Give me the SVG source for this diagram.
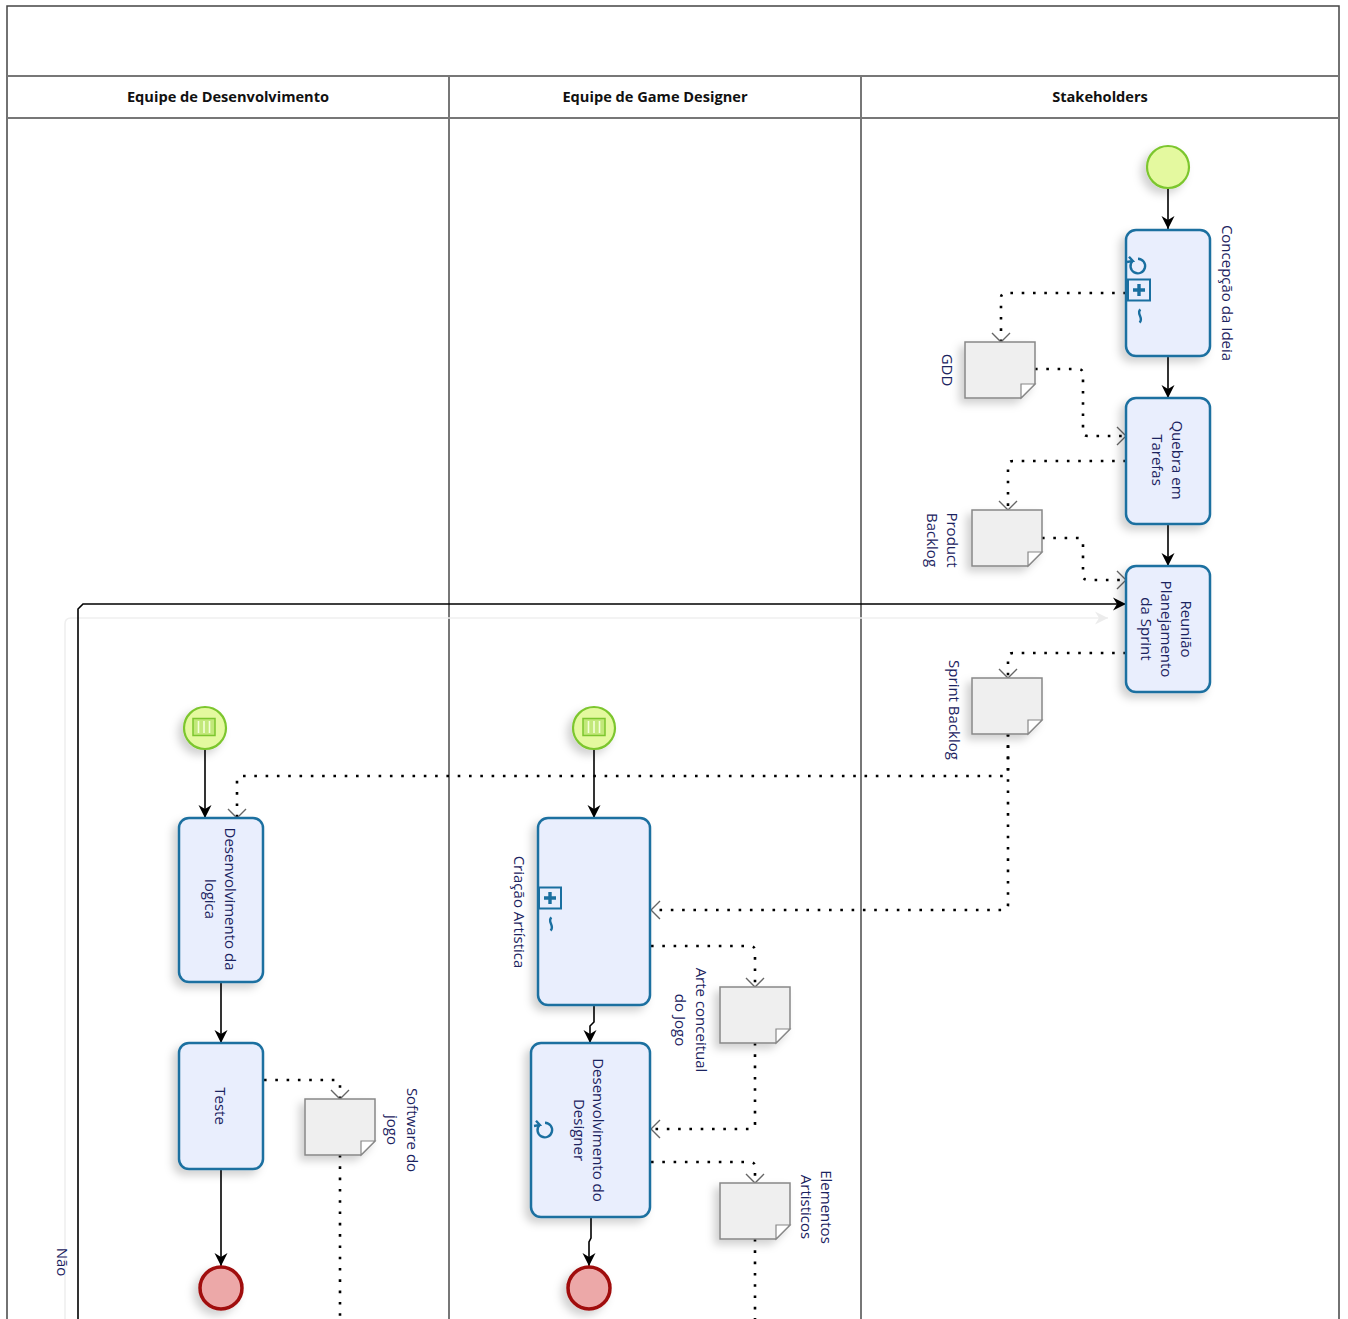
<svg xmlns="http://www.w3.org/2000/svg" width="1348" height="1319" viewBox="0 0 1348 1319">
  <defs>
    <style>
      .lane { fill: none; stroke: #777; stroke-width: 2; }
      .frame { fill: none; stroke: #444; stroke-width: 1.5; }
      .hdr { font-family: "Open Sans", "DejaVu Sans", sans-serif; font-weight: bold; font-size: 14.6px; fill: #111; text-anchor: middle; dominant-baseline: central; }
      .task { fill: #e9eefd; stroke: #1a6fa0; stroke-width: 2.5; }
      .start { fill: #e4f99f; stroke: #7cc62e; stroke-width: 2.2; }
      .end { fill: #eca8a8; stroke: #a00d0d; stroke-width: 3.5; }
      .doc { fill: #efefef; stroke: #888; stroke-width: 1.5; }
      .fold { fill: #fff; stroke: #888; stroke-width: 1.2; }
      .lbl { font-family: "Open Sans", "DejaVu Sans", sans-serif; font-size: 15px; fill: #1b2360; text-anchor: middle; dominant-baseline: central; }
      .seq { fill: none; stroke: #000; stroke-width: 1.6; marker-end: url(#arrow); }
      .assoc { fill: none; stroke: #000; stroke-width: 2.6; stroke-dasharray: 2.6 8.7; }
      .assocEnd { marker-end: url(#open); }
      .ghost { fill: none; stroke: #efefef; stroke-width: 1.6; }
      .icon { fill: none; stroke: #1a6fa0; stroke-width: 2.4; }
      .cond { fill: #c2e87a; stroke: #7cc62e; stroke-width: 1.5; }
      .condbar { stroke: #f4ffd8; stroke-width: 1.6; }
    </style>
    <filter id="shadow" x="-40%" y="-30%" width="180%" height="170%">
      <feDropShadow dx="-5" dy="5" stdDeviation="4" flood-color="#000" flood-opacity="0.18"/>
    </filter>
    <marker id="arrow" markerUnits="userSpaceOnUse" markerWidth="16" markerHeight="16" viewBox="-15 -8 16 16" refX="0" refY="0" orient="auto">
      <path d="M-13,-6.5 L0,0 L-13,6.5 L-9,0 Z" fill="#000"/>
    </marker>
    <marker id="open" markerUnits="userSpaceOnUse" markerWidth="14" markerHeight="22" viewBox="-11 -11 13 22" refX="0" refY="0" orient="auto">
      <path d="M-9,-9 L0,0 L-9,9" fill="none" stroke="#666" stroke-width="1.4"/>
    </marker>
    <marker id="ghostArrow" markerUnits="userSpaceOnUse" markerWidth="16" markerHeight="16" viewBox="-15 -8 16 16" refX="0" refY="0" orient="auto">
      <path d="M-13,-6.5 L0,0 L-13,6.5 L-9,0 Z" fill="#ececec"/>
    </marker>
    <!-- loop marker: open circle with a small barb -->
    <g id="loopIcon">
      <path d="M-5.5,-5 A7.3,7.3 0 1 0 0,-7.3" class="icon"/>
      <path d="M-9,-9.2 L-5.2,-5 L-11,-4" class="icon" stroke-width="2.2"/>
    </g>
    <!-- ad-hoc marker: tilde turned upright -->
    <g id="adhocIcon">
      <path d="M0.5,-6.5 C-4.5,-3 4.5,2.5 -0.5,6.5" class="icon" stroke-width="3.4"/>
    </g>
    <!-- collapsed sub-process marker -->
    <g id="subIcon">
      <rect x="-11" y="-10.5" width="22" height="21" fill="none" stroke="#1a6fa0" stroke-width="2"/>
      <path d="M-6,0 H6 M0,-6 V6" stroke="#1a6fa0" stroke-width="3.4"/>
    </g>
    <!-- conditional trigger -->
    <g id="condIcon">
      <rect x="-11" y="-8.5" width="22" height="17" class="cond"/>
      <path d="M-5.5,-6 V6 M0,-6 V6 M5.5,-6 V6" class="condbar"/>
    </g>
  </defs>

  <rect width="1348" height="1319" fill="#fff"/>

  <!-- pool and lanes -->
  <g id="pool">
    <path d="M7,1319 V6 H1339 V1319" class="frame"/>
    <path d="M7,76 H1339 M7,118 H1339" class="lane"/>
    <path d="M449,76 V1319 M861,76 V1319" class="lane"/>
    <text x="228" y="96" class="hdr">Equipe de Desenvolvimento</text>
    <text x="655" y="96" class="hdr">Equipe de Game Designer</text>
    <text x="1100" y="96" class="hdr">Stakeholders</text>
  </g>

  <!-- connectors -->
  <g id="connectors">
    <path d="M65,1319 V624 Q65,618 71,618 H1108" class="ghost" marker-end="url(#ghostArrow)"/>

    <path d="M1168,189 V229" class="seq"/>
    <path d="M1168,357 V398" class="seq"/>
    <path d="M1168,524 V566" class="seq"/>
    <path d="M78,1319 V609 L83,604 H1126" class="seq"/>
    <path d="M205,750 V818" class="seq"/>
    <path d="M221,983 V1043" class="seq"/>
    <path d="M221,1169 V1266" class="seq"/>
    <path d="M594,750 V818" class="seq"/>
    <path d="M594,1005 V1022 L590,1026 V1043" class="seq"/>
    <path d="M591,1217 V1238 L589,1242 V1266" class="seq"/>

    <path d="M1126,293 H1006 Q1001,293 1001,298 V342" class="assoc assocEnd"/>
    <path d="M1035,369 H1078 Q1083,369 1083,374 V431 Q1083,436 1088,436 H1126" class="assoc assocEnd"/>
    <path d="M1126,461 H1013 Q1008,461 1008,466 V510" class="assoc assocEnd"/>
    <path d="M1042,538 H1078 Q1083,538 1083,543 V575 Q1083,580 1088,580 H1126" class="assoc assocEnd"/>
    <path d="M1126,653 H1013 Q1008,653 1008,658 V678" class="assoc assocEnd"/>
    <path d="M1008,734 V771 Q1008,776 1003,776 H242 Q237,776 237,781 V818" class="assoc assocEnd"/>
    <path d="M1008,734 V905 Q1008,910 1003,910 H651" class="assoc assocEnd"/>
    <path d="M651,946 H750 Q755,946 755,951 V987" class="assoc assocEnd"/>
    <path d="M755,1043 V1124 Q755,1129 750,1129 H651" class="assoc assocEnd"/>
    <path d="M651,1162 H750 Q755,1162 755,1167 V1183" class="assoc assocEnd"/>
    <path d="M755,1239 V1322" class="assoc"/>
    <path d="M264,1080 H335 Q340,1080 340,1085 V1099" class="assoc assocEnd"/>
    <path d="M340,1155 V1322" class="assoc"/>

    <text transform="translate(63,1262) rotate(90)" class="lbl" font-size="14">Não</text>
  </g>

  <!-- Stakeholders -->
  <g id="start-stakeholders" filter="url(#shadow)">
    <circle cx="1168" cy="167" r="21" class="start"/>
  </g>
  <g id="task-concepcao">
    <rect x="1126" y="230" width="84" height="126" rx="10" class="task" filter="url(#shadow)"/>
    <use href="#loopIcon" x="1138" y="266"/>
    <use href="#subIcon" x="1139" y="290"/>
    <use href="#adhocIcon" x="1140" y="316"/>
    <text transform="translate(1228,293) rotate(90)" class="lbl">Concepção da Ideia</text>
  </g>
  <g id="data-gdd">
    <path d="M965,342 H1035 V384 L1021,398 H965 Z" class="doc" filter="url(#shadow)"/>
    <path d="M1035,384 L1021,384 L1021,398 Z" class="fold"/>
    <text transform="translate(948,370) rotate(90)" class="lbl">GDD</text>
  </g>
  <g id="task-quebra">
    <rect x="1126" y="398" width="84" height="126" rx="10" class="task" filter="url(#shadow)"/>
    <text transform="translate(1178,460) rotate(90)" class="lbl">Quebra em</text>
    <text transform="translate(1158,460) rotate(90)" class="lbl">Tarefas</text>
  </g>
  <g id="data-product-backlog">
    <path d="M972,510 H1042 V552 L1028,566 H972 Z" class="doc" filter="url(#shadow)"/>
    <path d="M1042,552 L1028,552 L1028,566 Z" class="fold"/>
    <text transform="translate(953,540) rotate(90)" class="lbl">Product</text>
    <text transform="translate(933,540) rotate(90)" class="lbl">Backlog</text>
  </g>
  <g id="task-reuniao">
    <rect x="1126" y="566" width="84" height="126" rx="10" class="task" filter="url(#shadow)"/>
    <text transform="translate(1187,629) rotate(90)" class="lbl">Reunião</text>
    <text transform="translate(1167,629) rotate(90)" class="lbl">Planejamento</text>
    <text transform="translate(1147,629) rotate(90)" class="lbl">da Sprint</text>
  </g>
  <g id="data-sprint-backlog">
    <path d="M972,678 H1042 V720 L1028,734 H972 Z" class="doc" filter="url(#shadow)"/>
    <path d="M1042,720 L1028,720 L1028,734 Z" class="fold"/>
    <text transform="translate(955,710) rotate(90)" class="lbl">Sprint Backlog</text>
  </g>

  <!-- Equipe de Desenvolvimento -->
  <g id="start-dev" filter="url(#shadow)">
    <circle cx="205" cy="728" r="21" class="start"/>
    <use href="#condIcon" x="204" y="727"/>
  </g>
  <g id="task-dev-logica">
    <rect x="179" y="818" width="84" height="164" rx="10" class="task" filter="url(#shadow)"/>
    <text transform="translate(231,899) rotate(90)" class="lbl">Desenvolvimento da</text>
    <text transform="translate(211,899) rotate(90)" class="lbl">logica</text>
  </g>
  <g id="task-teste">
    <rect x="179" y="1043" width="84" height="126" rx="10" class="task" filter="url(#shadow)"/>
    <text transform="translate(221,1106) rotate(90)" class="lbl">Teste</text>
  </g>
  <g id="data-software">
    <path d="M305,1099 H375 V1141 L361,1155 H305 Z" class="doc" filter="url(#shadow)"/>
    <path d="M375,1141 L361,1141 L361,1155 Z" class="fold"/>
    <text transform="translate(413,1130) rotate(90)" class="lbl">Software do</text>
    <text transform="translate(393,1130) rotate(90)" class="lbl">jogo</text>
  </g>
  <g id="end-dev" filter="url(#shadow)">
    <circle cx="221" cy="1288" r="21" class="end"/>
  </g>

  <!-- Equipe de Game Designer -->
  <g id="start-designer" filter="url(#shadow)">
    <circle cx="594" cy="728" r="21" class="start"/>
    <use href="#condIcon" x="594" y="727"/>
  </g>
  <g id="task-criacao">
    <rect x="538" y="818" width="112" height="187" rx="10" class="task" filter="url(#shadow)"/>
    <use href="#subIcon" x="550" y="898"/>
    <use href="#adhocIcon" x="551" y="924"/>
    <text transform="translate(520,912) rotate(90)" class="lbl">Criação Artística</text>
  </g>
  <g id="data-arte">
    <path d="M720,987 H790 V1029 L776,1043 H720 Z" class="doc" filter="url(#shadow)"/>
    <path d="M790,1029 L776,1029 L776,1043 Z" class="fold"/>
    <text transform="translate(702,1020) rotate(90)" class="lbl">Arte conceitual</text>
    <text transform="translate(681,1020) rotate(90)" class="lbl">do Jogo</text>
  </g>
  <g id="task-dev-designer">
    <rect x="531" y="1043" width="119" height="174" rx="10" class="task" filter="url(#shadow)"/>
    <use href="#loopIcon" x="545" y="1130"/>
    <text transform="translate(599,1130) rotate(90)" class="lbl">Desenvolvimento do</text>
    <text transform="translate(580,1130) rotate(90)" class="lbl">Designer</text>
  </g>
  <g id="data-elementos">
    <path d="M720,1183 H790 V1225 L776,1239 H720 Z" class="doc" filter="url(#shadow)"/>
    <path d="M790,1225 L776,1225 L776,1239 Z" class="fold"/>
    <text transform="translate(827,1207) rotate(90)" class="lbl">Elementos</text>
    <text transform="translate(807,1207) rotate(90)" class="lbl">Artisticos</text>
  </g>
  <g id="end-designer" filter="url(#shadow)">
    <circle cx="589" cy="1288" r="21" class="end"/>
  </g>
</svg>
